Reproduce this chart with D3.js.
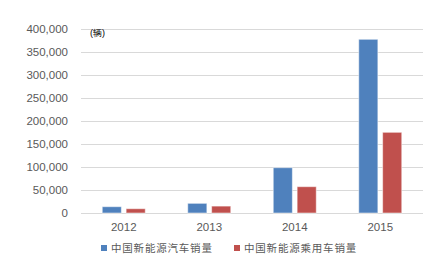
<!DOCTYPE html>
<html lang="zh">
<head>
<meta charset="UTF-8">
<script src="https://cdnjs.cloudflare.com/ajax/libs/d3/7.8.5/d3.min.js"></script>
<style>
  body { margin: 0; background: #fff; }
  svg text { font-family: "Liberation Sans", Arial, sans-serif; }
</style>
</head>
<body>
<svg width="438" height="279"></svg>
<script>
const years = ["2012", "2013", "2014", "2015"]
const nevSales = [13700, 21000, 98500, 377600]
const passengerSales = [9300, 15000, 57200, 175400]
const seriesNames = ["中国新能源汽车销量", "中国新能源乘用车销量"]
const yTicks = [0, 50000, 100000, 150000, 200000, 250000, 300000, 350000, 400000]
const colors = ["#4F81BD", "#C0504D"]

const svg = d3.select("svg")
const plotLeft = 81, plotRight = 423, plotTop = 29, plotBottom = 213

const x = d3.scaleBand().domain(years).range([plotLeft, plotRight])
const xs = d3.scaleBand().domain([0, 1]).range([-21.5, 21.5]).paddingInner(0.2)
const y = d3.scaleLinear().domain([0, 400000]).range([plotBottom, plotTop])

// grid
svg.append("g")
  .selectAll("line")
  .data(yTicks)
  .enter()
  .append("line")
  .attr("x1", plotLeft)
  .attr("x2", plotRight)
  .attr("y1", d => Math.round(y(d)) + 0.5)
  .attr("y2", d => Math.round(y(d)) + 0.5)
  .style("stroke", "#D9D9D9")
  .style("stroke-width", "1px")

// y labels
svg.append("g")
  .selectAll("text")
  .data(yTicks)
  .enter()
  .append("text")
  .attr("x", 68)
  .attr("y", d => y(d) + 4)
  .attr("text-anchor", "end")
  .style("font-size", "11.5px")
  .style("fill", "#595959")
  .text(d => d3.format(",")(d))

svg.append("text")
  .attr("x", 90)
  .attr("y", 36)
  .style("font-size", "9px")
  .style("fill", "#000")
  .text("(辆)")

// bars
const series = [nevSales, passengerSales]
series.forEach((vals, i) => {
  svg.append("g")
    .selectAll("rect")
    .data(vals)
    .enter()
    .append("rect")
    .attr("x", (d, j) => x(years[j]) + x.bandwidth() / 2 + xs(i))
    .attr("width", xs.bandwidth())
    .attr("y", d => y(d))
    .attr("height", d => y(0) - y(d))
    .style("fill", colors[i])
    .style("stroke", "#fff")
    .style("stroke-opacity", 0.5)
    .style("stroke-width", "1px")
})

// x labels
svg.append("g")
  .selectAll("text")
  .data(years)
  .enter()
  .append("text")
  .attr("x", d => x(d) + x.bandwidth() / 2)
  .attr("y", 231)
  .attr("text-anchor", "middle")
  .style("font-size", "11.5px")
  .style("fill", "#595959")
  .text(d => d)

// legend
const legendX = [101, 234]
seriesNames.forEach((name, i) => {
  svg.append("rect")
    .attr("x", legendX[i])
    .attr("y", 245)
    .attr("width", 6)
    .attr("height", 6)
    .style("fill", colors[i])
  svg.append("text")
    .attr("x", legendX[i] + 10)
    .attr("y", 252)
    .style("font-family", "'Noto Sans CJK SC', sans-serif")
    .style("font-size", "10.5px")
    .style("letter-spacing", "0.8px")
    .style("fill", "#595959")
    .text(name)
})
</script>
</body>
</html>
